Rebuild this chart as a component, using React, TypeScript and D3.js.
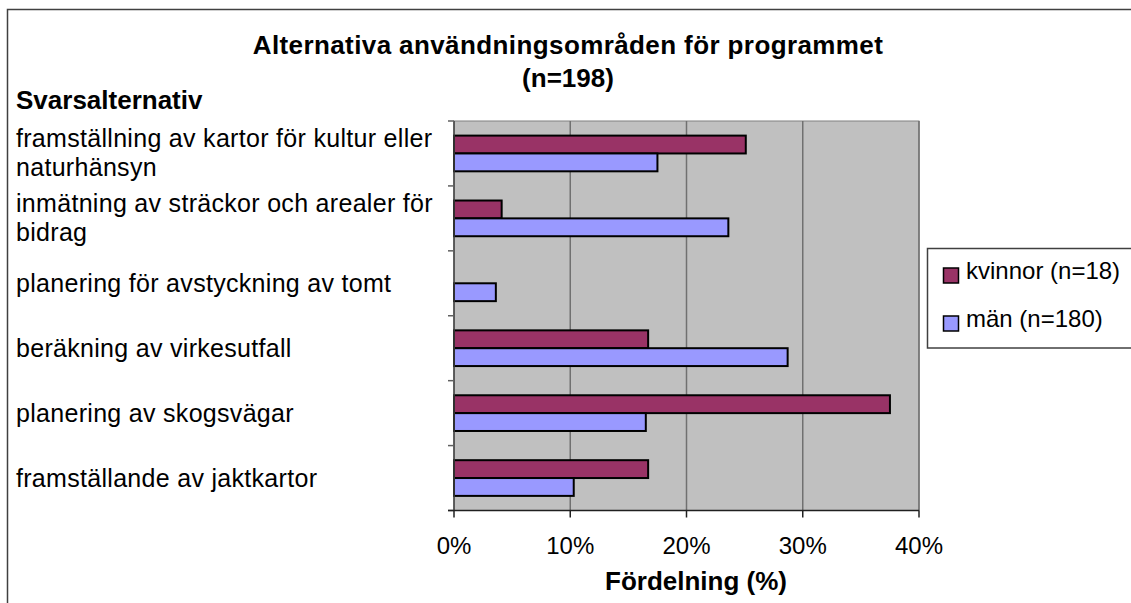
import React, { useEffect, useRef } from 'react';
import * as d3 from 'd3';

// kategorier, uppifrån och ner
const categories = [
  ['framställning av kartor för kultur eller', 'naturhänsyn'],
  ['inmätning av sträckor och arealer för', 'bidrag'],
  ['planering för avstyckning av tomt'],
  ['beräkning av virkesutfall'],
  ['planering av skogsvägar'],
  ['framställande av jaktkartor'],
];

const seriesNames = ['kvinnor (n=18)', 'män (n=180)'];
const kvinnor = [25.1, 4.1, 0, 16.7, 37.5, 16.7];
const man = [17.5, 23.6, 3.6, 28.7, 16.5, 10.3];
const xTicks = [0, 10, 20, 30, 40];

const colors = ['#993366', '#9999FF'];

const App = () => {
  const ref = useRef<SVGSVGElement>(null);

  useEffect(() => {
    const svg = d3.select(ref.current);
    svg.selectAll('*').remove();

    const font = 'Liberation Sans, Arial, sans-serif';
    const left = 454, right = 919, top = 121, bottom = 510.5;

    // yttre ram
    svg.append('rect')
      .attr('x', 7.5).attr('y', 9.5)
      .attr('width', 1130).attr('height', 700)
      .attr('fill', '#fff').attr('stroke', '#404040').attr('stroke-width', 1.5);

    const x = d3.scaleLinear().domain([0, 40]).range([left, right]);
    const y = d3.scaleBand<number>()
      .domain(d3.range(categories.length))
      .range([top, bottom])
      .paddingInner(0.45)
      .paddingOuter(0.225);
    const ySub = d3.scaleBand<number>().domain([0, 1]).range([0, y.bandwidth()]);

    // plotyta
    svg.append('rect')
      .attr('x', left).attr('y', top)
      .attr('width', right - left).attr('height', bottom - top)
      .attr('fill', '#C0C0C0').attr('stroke', '#808080').attr('stroke-width', 1);

    // rutnät
    svg.append('g')
      .selectAll('line')
      .data(xTicks.slice(1))
      .enter().append('line')
      .attr('x1', d => x(d)).attr('x2', d => x(d))
      .attr('y1', top).attr('y2', bottom)
      .attr('stroke', '#707070').attr('stroke-width', 1.5);

    // staplar
    const rows = categories.map((c, i) => [kvinnor[i], man[i]]);
    rows.forEach((vals, i) => {
      vals.forEach((v, s) => {
        if (v <= 0) return;
        svg.append('rect')
          .attr('x', x(0))
          .attr('y', (y(i) as number) + (ySub(s) as number))
          .attr('width', x(v) - x(0))
          .attr('height', ySub.bandwidth())
          .attr('fill', colors[s])
          .attr('stroke', '#000')
          .attr('stroke-width', 2);
      });
    });

    // y-axel
    const step = y.step();
    const boundaries = d3.range(categories.length + 1).map(i => top + i * step);
    svg.append('line')
      .attr('x1', left).attr('x2', left).attr('y1', top).attr('y2', bottom)
      .attr('stroke', '#404040').attr('stroke-width', 1.5);
    svg.append('g')
      .selectAll('line')
      .data(boundaries)
      .enter().append('line')
      .attr('x1', left - 6).attr('x2', left)
      .attr('y1', d => d).attr('y2', d => d)
      .attr('stroke', '#606060').attr('stroke-width', 1.5);

    // x-axel
    svg.append('line')
      .attr('x1', left - 6).attr('x2', right).attr('y1', bottom).attr('y2', bottom)
      .attr('stroke', '#202020').attr('stroke-width', 1.5);
    svg.append('g')
      .selectAll('line')
      .data(xTicks)
      .enter().append('line')
      .attr('x1', d => x(d)).attr('x2', d => x(d))
      .attr('y1', bottom).attr('y2', bottom + 7)
      .attr('stroke', '#202020').attr('stroke-width', 1.5);
    svg.append('g')
      .selectAll('text')
      .data(xTicks)
      .enter().append('text')
      .attr('x', d => x(d)).attr('y', 554)
      .attr('text-anchor', 'middle')
      .attr('font-family', font).attr('font-size', 24)
      .text(d => `${d}%`);

    // kategorietiketter
    categories.forEach((lines, i) => {
      const cy = (y(i) as number) + y.bandwidth() / 2;
      const lh = 29;
      const first = cy + 8.5 - ((lines.length - 1) * lh) / 2;
      lines.forEach((t, j) => {
        svg.append('text')
          .attr('x', 16).attr('y', first + j * lh)
          .attr('font-family', font).attr('font-size', 25)
          .attr('letter-spacing', 0.3)
          .text(t);
      });
    });

    // titlar
    svg.append('text')
      .attr('x', 568).attr('y', 54)
      .attr('text-anchor', 'middle')
      .attr('font-family', font).attr('font-size', 26).attr('font-weight', 'bold')
      .attr('letter-spacing', 0.4)
      .text('Alternativa användningsområden för programmet');
    svg.append('text')
      .attr('x', 568).attr('y', 87)
      .attr('text-anchor', 'middle')
      .attr('font-family', font).attr('font-size', 26).attr('font-weight', 'bold')
      .text('(n=198)');
    svg.append('text')
      .attr('x', 16).attr('y', 109)
      .attr('font-family', font).attr('font-size', 26).attr('font-weight', 'bold')
      .text('Svarsalternativ');
    svg.append('text')
      .attr('x', 696).attr('y', 590)
      .attr('text-anchor', 'middle')
      .attr('font-family', font).attr('font-size', 26).attr('font-weight', 'bold')
      .text('Fördelning (%)');

    // legend
    const legend = svg.append('g');
    legend.append('rect')
      .attr('x', 927.5).attr('y', 248.5)
      .attr('width', 210).attr('height', 99.5)
      .attr('fill', '#fff').attr('stroke', '#404040').attr('stroke-width', 1.5);
    seriesNames.forEach((name, s) => {
      const ly = 268 + s * 48;
      legend.append('rect')
        .attr('x', 943.5).attr('y', ly)
        .attr('width', 15).attr('height', 15)
        .attr('fill', colors[s]).attr('stroke', '#000').attr('stroke-width', 1.5);
      legend.append('text')
        .attr('x', 966).attr('y', ly + 11)
        .attr('font-family', font).attr('font-size', 24)
        .text(name);
    });
  }, []);

  return (
    <svg
      ref={ref}
      width={1131}
      height={603}
      style={{ position: 'absolute', left: 0, top: 0, display: 'block' }}
    />
  );
};

export default App;
